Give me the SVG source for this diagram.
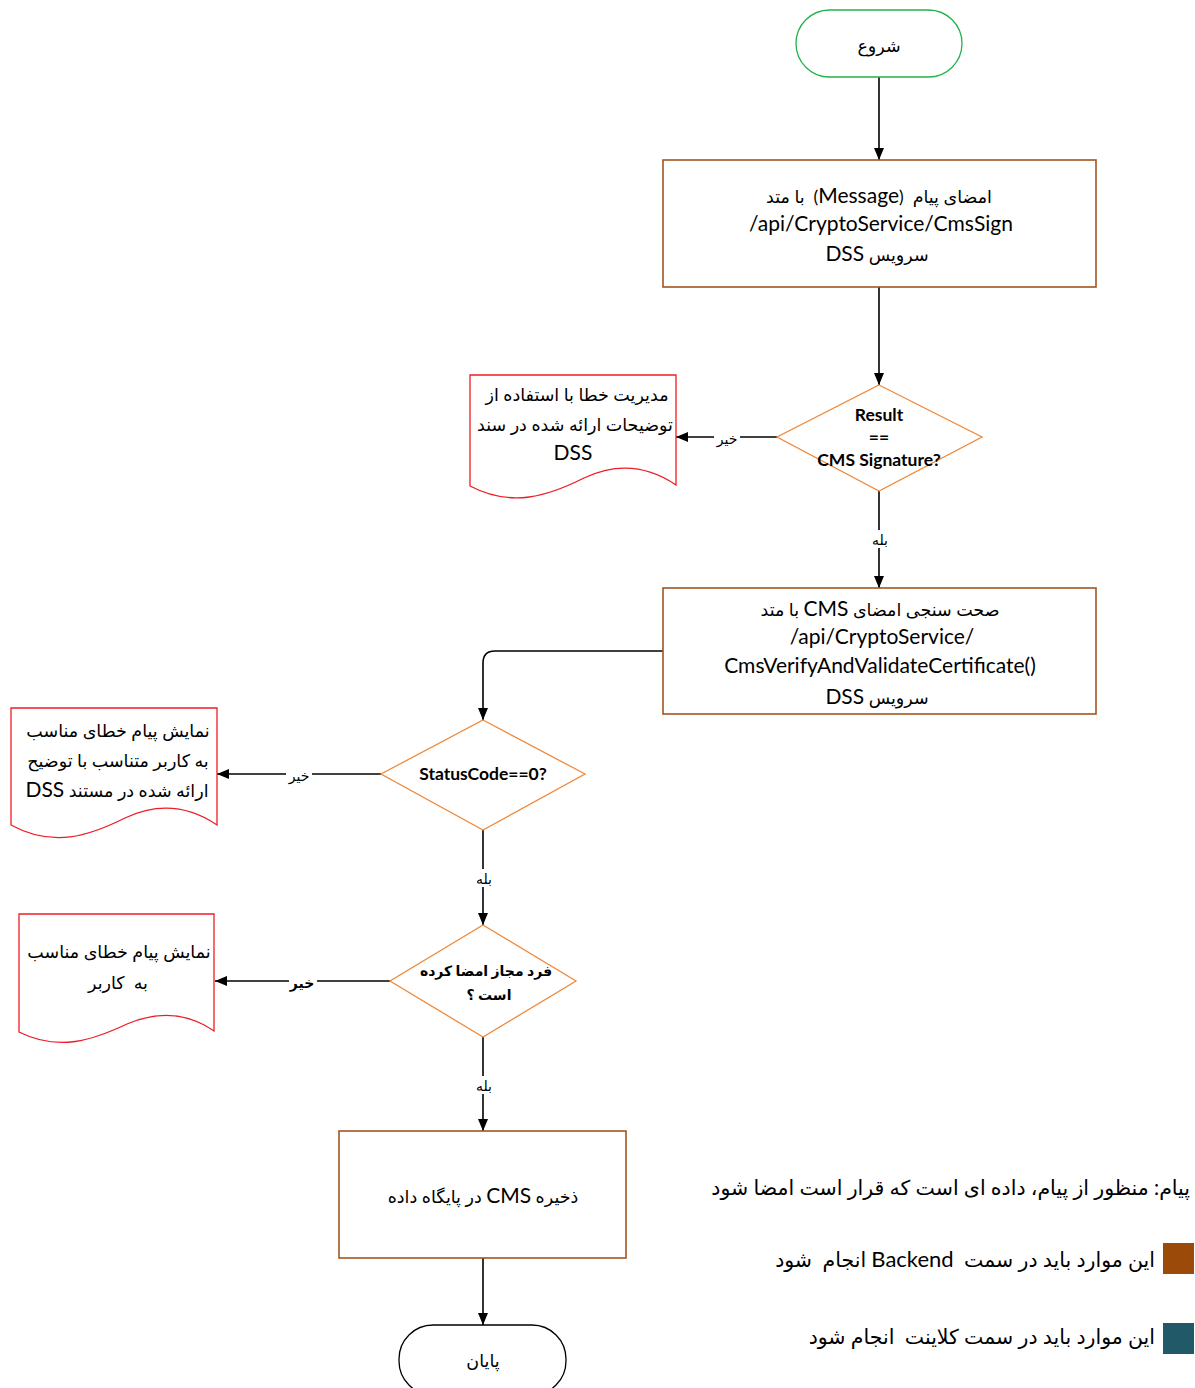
<svg xmlns="http://www.w3.org/2000/svg" width="1195" height="1388" viewBox="0 0 1195 1388">
  <style>
    text { font-family: Lato, "DejaVu Sans", sans-serif; fill: #000; white-space: pre; }
    .t { font-size: 17.5px; text-anchor: middle; }
    .la { font-family: Lato, "DejaVu Sans", sans-serif; font-size: 21px; }
    .b { font-size: 17.5px; font-weight: bold; text-anchor: middle; }
    .ba { font-size: 14px; font-weight: bold; text-anchor: middle; }
    .lbl { font-size: 14px; text-anchor: middle; }
    .leg { font-size: 20.5px; text-anchor: start; }
    .leg .la { font-size: 22px; }
    .term-start { fill: #fff; stroke: #22b24c; stroke-width: 1.3; }
    .term-end { fill: #fff; stroke: #000; stroke-width: 1.3; }
    .proc { fill: #fff; stroke: #a0561f; stroke-width: 1.6; }
    .dec { fill: #fff; stroke: #f0893a; stroke-width: 1.3; }
    .doc { fill: #fff; stroke: #ee1c24; stroke-width: 1.3; }
    .edge { fill: none; stroke: #000; stroke-width: 1.6; marker-end: url(#arrow); }
  </style>
  <defs>
    <marker id="arrow" viewBox="0 0 12 10" refX="12" refY="5" markerWidth="12" markerHeight="10" markerUnits="userSpaceOnUse" orient="auto">
      <path d="M0,0 L12,5 L0,10 Z" fill="#000"/>
    </marker>
  </defs>

  <!-- connectors -->
  <g id="connectors">
    <path class="edge" d="M879,77 V160"/>
    <path class="edge" d="M879,287 V385"/>
    <path class="edge" d="M777,437 H676"/>
    <path class="edge" d="M879,491 V588"/>
    <path class="edge" d="M663,651 H495 Q483,651 483,663 V720"/>
    <path class="edge" d="M381,774 H217"/>
    <path class="edge" d="M483,830 V925"/>
    <path class="edge" d="M390,981 H215"/>
    <path class="edge" d="M483,1037 V1131"/>
    <path class="edge" d="M483,1258 V1325"/>
    <!-- branch labels -->
    <rect x="714" y="429" width="26" height="18" fill="#fff"/>
    <text class="lbl" x="727" y="444">خیر</text>
    <rect x="870" y="530" width="20" height="18" fill="#fff"/>
    <text class="lbl" x="880" y="545">بله</text>
    <rect x="286" y="766" width="26" height="18" fill="#fff"/>
    <text class="lbl" x="299" y="781">خیر</text>
    <rect x="474" y="869" width="20" height="18" fill="#fff"/>
    <text class="lbl" x="484" y="884">بله</text>
    <rect x="289" y="973" width="28" height="18" fill="#fff"/>
    <text class="lbl" x="302" y="988" font-weight="bold">خیر</text>
    <rect x="474" y="1076" width="20" height="18" fill="#fff"/>
    <text class="lbl" x="484" y="1091">بله</text>
  </g>

  <g id="start">
    <rect class="term-start" x="796" y="10" width="166" height="67" rx="33.5"/>
    <text class="t" x="879" y="52" direction="rtl">شروع</text>
  </g>

  <g id="sign">
    <rect class="proc" x="663" y="160" width="433" height="127"/>
    <text class="t" x="879" y="203" direction="rtl">امضای پیام  (<tspan class="la">Message</tspan>)  با متد</text>
    <text class="t la" x="881" y="231" direction="ltr">/api/CryptoService/CmsSign</text>
    <text class="t" x="877" y="261" direction="rtl">سرویس <tspan class="la">DSS</tspan></text>
  </g>

  <g id="check-result">
    <polygon class="dec" points="879,385 982,437 879,491 777,437"/>
    <text class="b" x="879" y="421">Result</text>
    <text class="b" x="879" y="443">==</text>
    <text class="b" x="879" y="466">CMS Signature?</text>
  </g>

  <g id="error-sign">
    <path class="doc" d="M470,375 H676 V485 C648,466 618,462 584,478 C548,496 512,508 470,486 Z"/>
    <text class="t" x="577" y="401" direction="rtl">مدیریت خطا با استفاده از</text>
    <text class="t" x="575" y="431" direction="rtl">توضیحات ارائه شده در سند</text>
    <text class="t la" x="573" y="460">DSS</text>
  </g>

  <g id="verify">
    <rect class="proc" x="663" y="588" width="433" height="126"/>
    <text class="t" x="880" y="616" direction="rtl">صحت سنجی امضای <tspan class="la">CMS</tspan> با متد</text>
    <text class="t la" x="882" y="644" direction="ltr">/api/CryptoService/</text>
    <text class="t la" x="880" y="673" direction="ltr">CmsVerifyAndValidateCertificate()</text>
    <text class="t" x="877" y="704" direction="rtl">سرویس <tspan class="la">DSS</tspan></text>
  </g>

  <g id="check-status">
    <polygon class="dec" points="483,720 585,774 483,830 381,774"/>
    <text class="b" x="483" y="780">StatusCode==0?</text>
  </g>

  <g id="error-status">
    <path class="doc" d="M11,708 H217 V825 C189,806 159,802 125,818 C89,836 53,848 11,825 Z"/>
    <text class="t" x="118" y="737" direction="rtl">نمایش پیام خطای مناسب</text>
    <text class="t" x="118" y="767" direction="rtl">به کاربر متناسب با توضیح</text>
    <text class="t" x="117" y="797" direction="rtl">ارائه شده در مستند <tspan class="la">DSS</tspan></text>
  </g>

  <g id="check-signer">
    <polygon class="dec" points="483,925 576,981 483,1037 390,981"/>
    <text class="ba" x="486" y="976" direction="rtl">فرد مجاز امضا کرده</text>
    <text class="ba" x="489" y="1000" direction="rtl">است ؟</text>
  </g>

  <g id="error-signer">
    <path class="doc" d="M19,914 H214 V1031 C188,1013 160,1010 127,1024 C93,1040 59,1052 19,1032 Z"/>
    <text class="t" x="119" y="958" direction="rtl">نمایش پیام خطای مناسب</text>
    <text class="t" x="118" y="989" direction="rtl">به  کاربر</text>
  </g>

  <g id="store">
    <rect class="proc" x="339" y="1131" width="287" height="127"/>
    <text class="t" x="483" y="1203" direction="rtl">ذخیره <tspan class="la">CMS</tspan> در پایگاه داده</text>
  </g>

  <g id="end">
    <rect class="term-end" x="399" y="1325" width="167" height="70" rx="34"/>
    <text class="t" x="483" y="1367" direction="rtl">پایان</text>
  </g>

  <g id="legend">
    <text class="leg" x="1190" y="1195" direction="rtl">پیام: منظور از پیام، داده ای است که قرار است امضا شود</text>
    <rect x="1163" y="1243" width="31" height="31" fill="#9c4a0a"/>
    <text class="leg" x="1155" y="1267" direction="rtl">این موارد باید در سمت  <tspan class="la">Backend</tspan> انجام  شود</text>
    <rect x="1163" y="1323" width="31" height="31" fill="#215968"/>
    <text class="leg" x="1155" y="1344" direction="rtl">این موارد باید در سمت کلاینت  انجام شود</text>
  </g>
</svg>
